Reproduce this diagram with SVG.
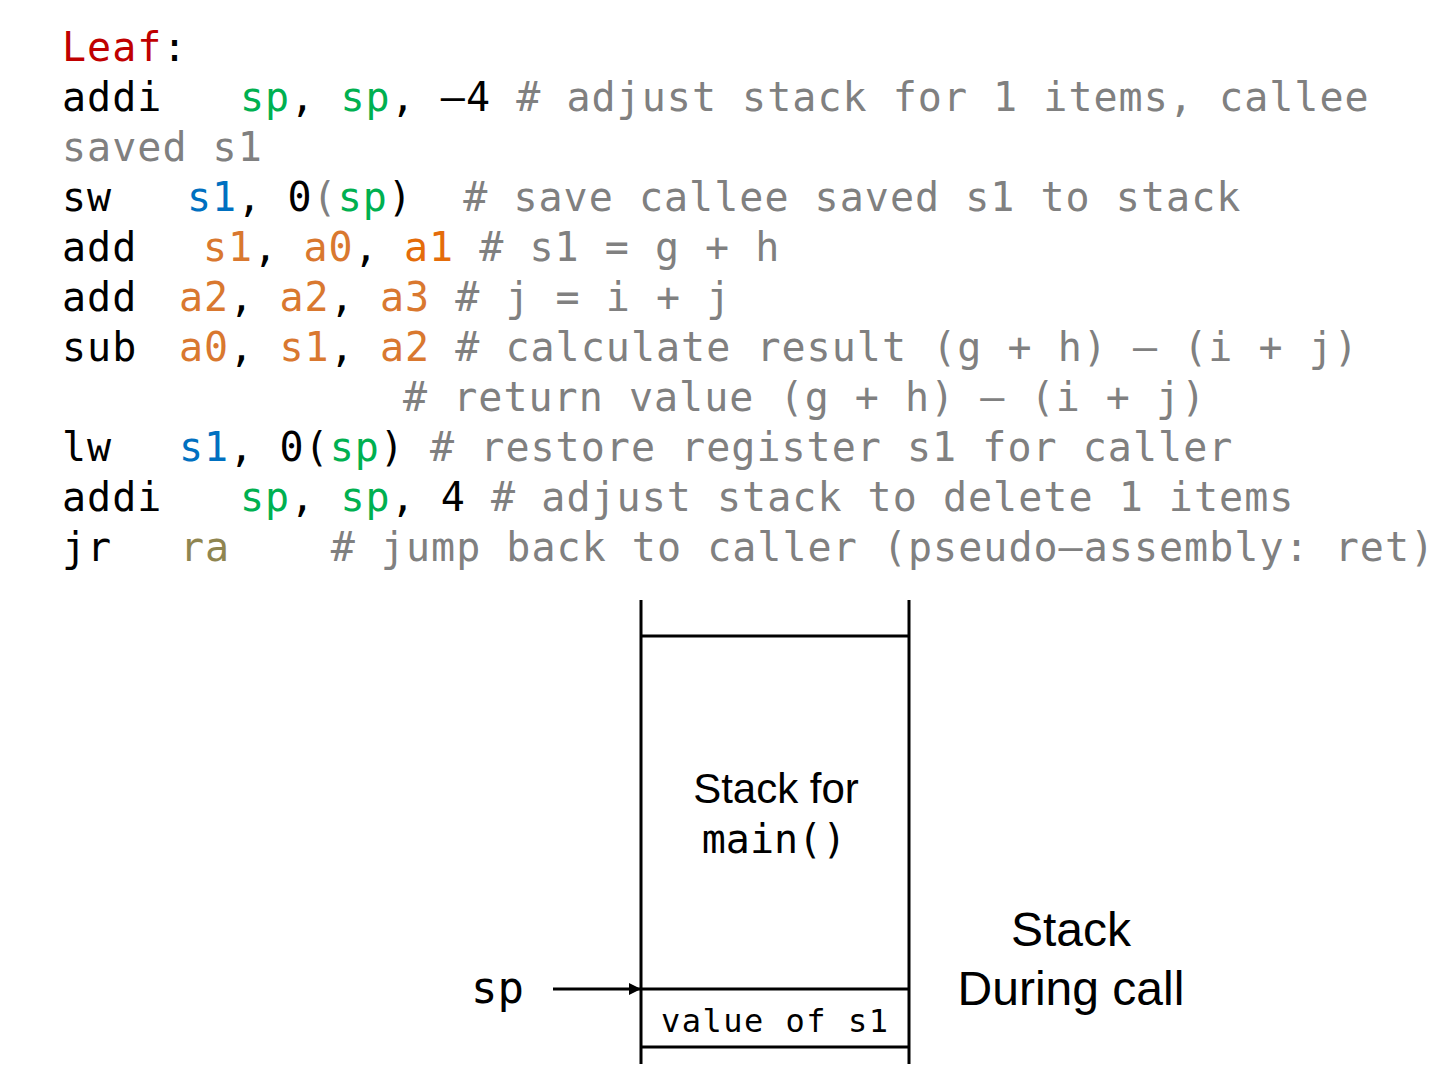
<svg xmlns="http://www.w3.org/2000/svg" width="1449" height="1080" viewBox="0 0 1449 1080">
<style>
.code{font-family:"DejaVu Sans Mono","Liberation Mono",monospace;font-size:40px;letter-spacing:1.02px;fill:#000;white-space:pre}
.r{fill:#c00000}.g{fill:#00b050}.b{fill:#0070c0}.o{fill:#d9782f}.o2{fill:#e46c0a}.ol{fill:#8f8550}.c{fill:#808080}
.sans{font-family:"Liberation Sans",Arial,sans-serif;fill:#000}
.mono{font-family:"DejaVu Sans Mono","Liberation Mono",monospace;fill:#000;white-space:pre}
.ln{stroke:#000;stroke-width:3;fill:none}
</style>
<defs>
<marker id="ah" viewBox="0 0 10 10" refX="10" refY="5" markerWidth="4" markerHeight="4" orient="auto" markerUnits="strokeWidth">
<path d="M0,0 L10,5 L0,10 z" fill="#000"/>
</marker>
</defs>
<g id="code">
<text class="code" x="62" y="61"><tspan class="r">Leaf</tspan>:</text>
<text class="code" y="111"><tspan x="62">addi</tspan><tspan x="240" class="g">sp</tspan>, <tspan class="g">sp</tspan>, –4 <tspan class="c"># adjust stack for 1 items, callee</tspan></text>
<text class="code" x="62" y="161"><tspan class="c">saved s1</tspan></text>
<text class="code" y="211"><tspan x="62">sw</tspan><tspan x="187" class="b">s1</tspan>, 0<tspan class="c">(</tspan><tspan class="g">sp</tspan>)<tspan class="c">  # save callee saved s1 to stack</tspan></text>
<text class="code" y="261"><tspan x="62">add</tspan><tspan x="203" class="o">s1</tspan>, <tspan class="o">a0</tspan>, <tspan class="o2">a1</tspan><tspan class="c"> # s1 = g + h</tspan></text>
<text class="code" y="311"><tspan x="62">add</tspan><tspan x="179" class="o">a2</tspan>, <tspan class="o">a2</tspan>, <tspan class="o">a3</tspan><tspan class="c"> # j = i + j</tspan></text>
<text class="code" y="361"><tspan x="62">sub</tspan><tspan x="179" class="o">a0</tspan>, <tspan class="o">s1</tspan>, <tspan class="o">a2</tspan><tspan class="c"> # calculate result (g + h) – (i + j)</tspan></text>
<text class="code" x="403" y="411"><tspan class="c"># return value (g + h) – (i + j)</tspan></text>
<text class="code" y="461"><tspan x="62">lw</tspan><tspan x="179" class="b">s1</tspan>, 0(<tspan class="g">sp</tspan>)<tspan class="c"> # restore register s1 for caller</tspan></text>
<text class="code" y="511"><tspan x="62">addi</tspan><tspan x="240" class="g">sp</tspan>, <tspan class="g">sp</tspan>, 4 <tspan class="c"># adjust stack to delete 1 items</tspan></text>
<text class="code" y="561"><tspan x="62">jr</tspan><tspan x="180" class="ol">ra</tspan><tspan class="c">    # jump back to caller (pseudo–assembly: ret)</tspan></text>
</g>
<g id="stack">
<line class="ln" x1="641" y1="600" x2="641" y2="1064"/>
<line class="ln" x1="909" y1="600" x2="909" y2="1064"/>
<line class="ln" x1="641" y1="636" x2="909" y2="636"/>
<line class="ln" x1="641" y1="989" x2="909" y2="989"/>
<line class="ln" x1="641" y1="1047" x2="909" y2="1047"/>
</g>
<g id="main-frame">
<text class="sans" x="776" y="803" font-size="42" text-anchor="middle">Stack for</text>
<text class="mono" x="774" y="853" font-size="40" text-anchor="middle">main()</text>
</g>
<g id="s1-slot">
<text class="mono" x="661" y="1032" font-size="32" letter-spacing="1.5">value of s1</text>
</g>
<g id="sp-label">
<text class="mono" x="471" y="1003" font-size="44">sp</text>
</g>
<g id="caption">
<text class="sans" x="1071" y="946" font-size="48" text-anchor="middle">Stack</text>
<text class="sans" x="1071" y="1005" font-size="48" text-anchor="middle">During call</text>
</g>
<g id="connectors">
<line x1="553" y1="989" x2="641" y2="989" stroke="#000" stroke-width="3" marker-end="url(#ah)"/>
</g>
</svg>
